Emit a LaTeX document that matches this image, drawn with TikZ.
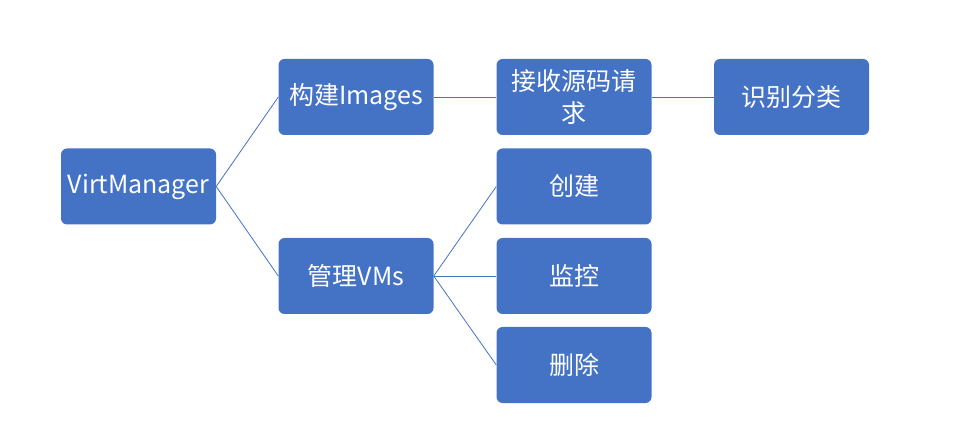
\documentclass[tikz,border=0pt]{standalone}
\usepackage{fontspec}
\setmainfont{Noto Sans CJK SC}
\newfontfamily\cjk{Noto Sans CJK SC}
\definecolor{boxblue}{HTML}{4472C4}
\begin{document}
\begin{tikzpicture}[x=1pt,y=-1pt,
  box/.style={fill=boxblue, rounded corners=6pt, minimum width=155pt, minimum height=76pt,
    inner sep=0pt, text=white, font=\cjk\fontsize{25}{32}\selectfont, align=center},
  link/.style={draw=boxblue, line width=0.8pt}]
\useasboundingbox (0,0) rectangle (964,430);
\node[box] (vm) at (138.5,186.5) {VirtManager};
\node[box] (build) at (356,97) {构建Images};
\node[box] (manage) at (356,276) {管理VMs};
\node[box] (recv) at (574,97) {接收源码请\\求};
\node[box] (cls) at (791.5,97) {识别分类};
\node[box] (create) at (574,186.5) {创建};
\node[box] (mon) at (574,276) {监控};
\node[box] (del) at (574,365) {删除};
\draw[link] (vm.east) -- (build.west);
\draw[link] (vm.east) -- (manage.west);
\draw[link] (build.east) -- (recv.west);
\draw[link] (recv.east) -- (cls.west);
\draw[link] (manage.east) -- (create.west);
\draw[link] (manage.east) -- (mon.west);
\draw[link] (manage.east) -- (del.west);
\end{tikzpicture}
\end{document}
